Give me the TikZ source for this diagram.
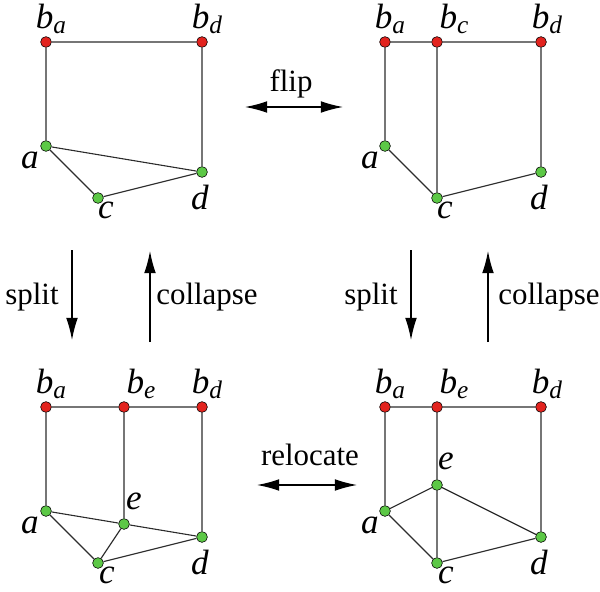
\documentclass[tikz,border=0pt]{standalone}
\usepackage{fontspec}
\setmainfont{Liberation Serif}
\newfontfamily\lblfont{Liberation Serif}
\usepackage{tikz}
\usetikzlibrary{arrows.meta}
\definecolor{bdryred}{RGB}{226, 35, 30}
\definecolor{innergreen}{RGB}{92, 200, 70}
\definecolor{edgegray}{RGB}{45, 45, 45}
% vertex name: italic letter with an optional lowered subscript
\newcommand{\vname}[2]{\textit{#1}\raisebox{-0.3ex}{\fontsize{18}{18}\selectfont\textit{#2}}}
\tikzset{
	bvert/.style={circle, draw=black, line width=0.4pt, fill=bdryred, inner sep=0pt, minimum size=0.27cm},
	gvert/.style={circle, draw=black, line width=0.4pt, fill=innergreen, inner sep=0pt, minimum size=0.27cm},
	edge/.style={edgegray, line width=0.8pt},
	lbl/.style={inner sep=0pt, font=\lblfont\fontsize{25}{28}\selectfont},
	txt/.style={inner sep=0pt, font=\lblfont\fontsize{22}{26}\selectfont},
	move/.style={black, line width=0.85pt, -{Latex[length=0.55cm, width=0.29cm]}},
	swap/.style={black, line width=0.85pt, {Latex[length=0.55cm, width=0.29cm]}-{Latex[length=0.55cm, width=0.29cm]}}
}

\begin{document}
\begin{tikzpicture}[x=0.025cm, y=-0.025cm]
	\useasboundingbox (0,0) rectangle (600,592);
	% top left: before the flip
	\node[bvert] (ba1) at (46,42) {};
	\node[bvert] (bd1) at (202,42) {};
	\node[gvert] (a1) at (46,146) {};
	\node[gvert] (c1) at (98,198) {};
	\node[gvert] (d1) at (202,172) {};
	\draw[edge] (ba1) -- (bd1) (ba1) -- (a1) (bd1) -- (d1)
		(a1) -- (d1) (a1) -- (c1) (c1) -- (d1);
	\node[lbl] (ba1l) at (51,19) {\vname{b}{a}};
	\node[lbl] (bd1l) at (207,19) {\vname{b}{d}};
	\node[lbl] (a1l) at (30,163) {\vname{a}{}};
	\node[lbl] (c1l) at (106,213) {\vname{c}{}};
	\node[lbl] (d1l) at (200,200) {\vname{d}{}};
	% top right: after the flip
	\node[bvert] (ba2) at (385,42) {};
	\node[bvert] (bc2) at (437,42) {};
	\node[bvert] (bd2) at (541,42) {};
	\node[gvert] (a2) at (385,146) {};
	\node[gvert] (c2) at (437,198) {};
	\node[gvert] (d2) at (541,172) {};
	\draw[edge] (ba2) -- (bc2) (bc2) -- (bd2) (ba2) -- (a2) (bd2) -- (d2)
		(bc2) -- (c2) (a2) -- (c2) (c2) -- (d2);
	\node[lbl] (ba2l) at (390,19) {\vname{b}{a}};
	\node[lbl] (bc2l) at (454,19) {\vname{b}{c}};
	\node[lbl] (bd2l) at (547,19) {\vname{b}{d}};
	\node[lbl] (a2l) at (370,163) {\vname{a}{}};
	\node[lbl] (c2l) at (445,213) {\vname{c}{}};
	\node[lbl] (d2l) at (539,200) {\vname{d}{}};
	% bottom left: split
	\node[bvert] (ba3) at (46,407) {};
	\node[bvert] (be3) at (124,407) {};
	\node[bvert] (bd3) at (202,407) {};
	\node[gvert] (a3) at (46,511) {};
	\node[gvert] (e3) at (124,524) {};
	\node[gvert] (c3) at (98,563) {};
	\node[gvert] (d3) at (202,537) {};
	\draw[edge] (ba3) -- (be3) (be3) -- (bd3) (ba3) -- (a3) (bd3) -- (d3)
		(be3) -- (e3) (a3) -- (e3) (e3) -- (d3) (a3) -- (c3)
		(c3) -- (e3) (c3) -- (d3);
	\node[lbl] (ba3l) at (51,384) {\vname{b}{a}};
	\node[lbl] (be3l) at (141,384) {\vname{b}{e}};
	\node[lbl] (bd3l) at (207,384) {\vname{b}{d}};
	\node[lbl] (a3l) at (30,528) {\vname{a}{}};
	\node[lbl] (e3l) at (134,504) {\vname{e}{}};
	\node[lbl] (c3l) at (107,578) {\vname{c}{}};
	\node[lbl] (d3l) at (200,565) {\vname{d}{}};
	% bottom right: relocated
	\node[bvert] (ba4) at (385,407) {};
	\node[bvert] (be4) at (437,407) {};
	\node[bvert] (bd4) at (541,407) {};
	\node[gvert] (e4) at (437,485) {};
	\node[gvert] (a4) at (385,511) {};
	\node[gvert] (c4) at (437,563) {};
	\node[gvert] (d4) at (541,537) {};
	\draw[edge] (ba4) -- (be4) (be4) -- (bd4) (ba4) -- (a4) (bd4) -- (d4)
		(be4) -- (e4) (e4) -- (a4) (e4) -- (c4) (e4) -- (d4)
		(a4) -- (c4) (c4) -- (d4);
	\node[lbl] (ba4l) at (390,384) {\vname{b}{a}};
	\node[lbl] (be4l) at (454,384) {\vname{b}{e}};
	\node[lbl] (bd4l) at (547,384) {\vname{b}{d}};
	\node[lbl] (e4l) at (446,464) {\vname{e}{}};
	\node[lbl] (a4l) at (370,528) {\vname{a}{}};
	\node[lbl] (c4l) at (446,578) {\vname{c}{}};
	\node[lbl] (d4l) at (539,565) {\vname{d}{}};
	% moves between the four states
	\coordinate (flipL) at (245,107);
	\coordinate (flipR) at (343,107);
	\draw[swap] (flipL) -- (flipR);
	\node[txt] (flip) at (291,84) {flip};
	\coordinate (relL) at (257,485);
	\coordinate (relR) at (357,485);
	\draw[swap] (relL) -- (relR);
	\node[txt] (relocate) at (310,455) {relocate};
	\coordinate (split1a) at (72,250);
	\coordinate (split1b) at (72,340);
	\draw[move] (split1a) -- (split1b);
	\node[txt] (split1) at (32,297) {split};
	\coordinate (coll1a) at (150,342);
	\coordinate (coll1b) at (150,251);
	\draw[move] (coll1a) -- (coll1b);
	\node[txt] (coll1) at (207,297) {collapse};
	\coordinate (split2a) at (411,250);
	\coordinate (split2b) at (411,340);
	\draw[move] (split2a) -- (split2b);
	\node[txt] (split2) at (371,297) {split};
	\coordinate (coll2a) at (488,342);
	\coordinate (coll2b) at (488,251);
	\draw[move] (coll2a) -- (coll2b);
	\node[txt] (coll2) at (549,297) {collapse};
\end{tikzpicture}
\end{document}
